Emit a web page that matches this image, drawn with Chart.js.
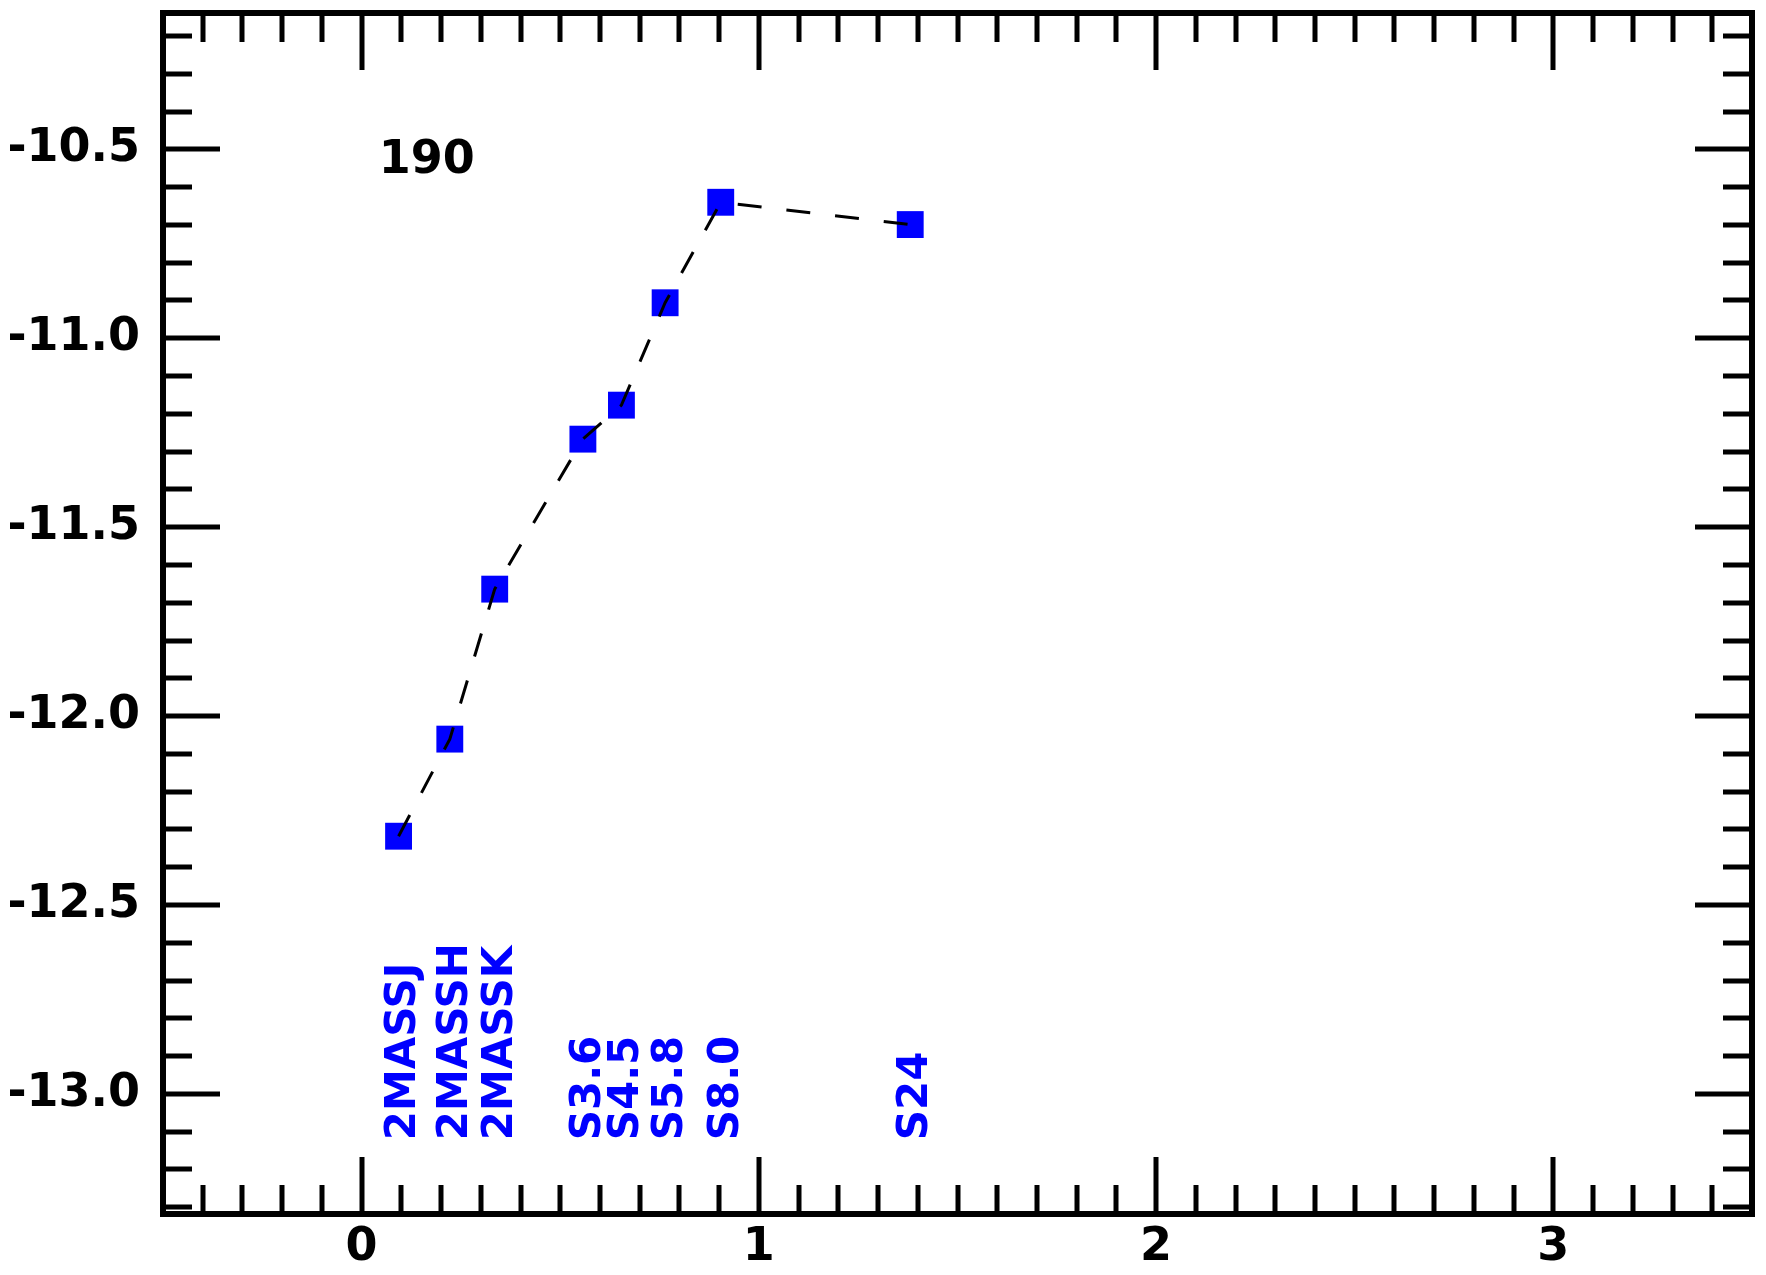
<!DOCTYPE html>
<html>
<head>
<meta charset="utf-8">
<script src="https://cdn.jsdelivr.net/npm/chart.js@4.4.1/dist/chart.umd.min.js"></script>
<style>
  html, body { margin: 0; padding: 0; background: #fff; }
  #wrap { width: 1766px; height: 1275px; }
</style>
</head>
<body>
<div id="wrap"><canvas id="c" width="1766" height="1275"></canvas></div>
<script>
// ---- data ----
const bands = ['2MASSJ', '2MASSH', '2MASSK', 'S3.6', 'S4.5', 'S5.8', 'S8.0', 'S24'];
const logWave = [0.093, 0.222, 0.335, 0.557, 0.654, 0.764, 0.904, 1.381];
const logFlux = [-12.318, -12.061, -11.664, -11.267, -11.177, -10.906, -10.640, -10.699];
const xTickValues = [0, 1, 2, 3];
const yTickValues = [-13.0, -12.5, -12.0, -11.5, -11.0, -10.5];
const sourceLabel = '190';

// ---- layout constants (not data) ----
const X_MIN = -0.5, X_MAX = 3.5;
const Y_MIN = -13.318, Y_MAX = -10.139;
const LABEL_BASE_Y = -13.123;      // bottom of rotated band labels (data units)
const TAG_POS = { x: 0.043, y: -10.531 };

const FONT = "'DejaVu Sans', 'Liberation Sans', sans-serif";
const BLUE = '#0000ff';

const points = logWave.map((v, i) => ({ x: v, y: logFlux[i] }));

const framePlugin = {
  id: 'frameTicks',
  afterDraw(chart) {
    const { ctx, chartArea: a, scales } = chart;
    const xs = scales.x, ys = scales.y;
    ctx.save();
    ctx.strokeStyle = '#000';
    ctx.lineCap = 'butt';
    ctx.lineWidth = 5;
    ctx.beginPath();
    // x ticks (bottom and top, pointing inward)
    for (let i = -4; i <= 34; i++) {
      const v = i / 10;
      const len = (i % 10 === 0) ? 57 : 29;
      const px = Math.round(xs.getPixelForValue(v));
      ctx.moveTo(px, a.bottom); ctx.lineTo(px, a.bottom - len);
      ctx.moveTo(px, a.top); ctx.lineTo(px, a.top + len);
    }
    // y ticks (left and right)
    for (let i = 102; i <= 133; i++) {
      const v = -i / 10;
      const len = (i % 5 === 0) ? 57 : 29;
      const py = Math.round(ys.getPixelForValue(v));
      ctx.moveTo(a.left, py); ctx.lineTo(a.left + len, py);
      ctx.moveTo(a.right, py); ctx.lineTo(a.right - len, py);
    }
    ctx.stroke();
    // frame
    ctx.lineWidth = 6;
    ctx.strokeRect(a.left, a.top, a.right - a.left, a.bottom - a.top);

    // band labels, rotated
    ctx.fillStyle = BLUE;
    ctx.font = 'bold 42px ' + FONT;
    ctx.textAlign = 'left';
    ctx.textBaseline = 'middle';
    const baseY = ys.getPixelForValue(LABEL_BASE_Y);
    bands.forEach((b, i) => {
      const px = xs.getPixelForValue(logWave[i]) + 6;
      ctx.save();
      ctx.translate(px, baseY);
      ctx.rotate(-Math.PI / 2);
      ctx.fillText(b, 0, 0);
      ctx.restore();
    });

    // source tag
    ctx.fillStyle = '#000';
    ctx.font = 'bold 46px ' + FONT;
    ctx.textAlign = 'left';
    ctx.textBaseline = 'middle';
    ctx.fillText(sourceLabel, xs.getPixelForValue(TAG_POS.x), ys.getPixelForValue(TAG_POS.y));
    ctx.restore();
  }
};

new Chart(document.getElementById('c'), {
  type: 'scatter',
  data: {
    datasets: [
      {
        label: 'line',
        data: points,
        showLine: true,
        borderColor: '#000',
        borderWidth: 3,
        borderDash: [24, 25],
        pointRadius: 0,
        fill: false,
        order: 0
      },
      {
        label: 'points',
        data: points,
        showLine: false,
        pointStyle: 'rect',
        pointRadius: 19,
        pointBorderWidth: 0,
        backgroundColor: BLUE,
        borderColor: BLUE,
        order: 1
      }
    ]
  },
  options: {
    responsive: false,
    devicePixelRatio: 1,
    animation: false,
    events: [],
    layout: { autoPadding: false, padding: { top: 13, right: 14, left: 0, bottom: 0 } },
    plugins: { legend: { display: false }, tooltip: { enabled: false } },
    scales: {
      x: {
        type: 'linear',
        min: X_MIN, max: X_MAX,
        grid: { display: false, drawTicks: false },
        border: { display: false },
        afterBuildTicks: (s) => { s.ticks = xTickValues.map(v => ({ value: v })); },
        afterFit: (s) => { s.height = 61; s.paddingLeft = 0; s.paddingRight = 0; },
        ticks: {
          color: '#000',
          padding: 6,
          maxRotation: 0,
          font: { family: FONT, weight: 'bold', size: 46 },
          callback: (v) => String(v)
        }
      },
      y: {
        type: 'linear',
        min: Y_MIN, max: Y_MAX,
        grid: { display: false, drawTicks: false },
        border: { display: false },
        afterBuildTicks: (s) => { s.ticks = yTickValues.map(v => ({ value: v })); },
        afterFit: (s) => { s.width = 163; s.paddingTop = 0; s.paddingBottom = 0; },
        ticks: {
          color: '#000',
          padding: 23,
          font: { family: FONT, weight: 'bold', size: 46 },
          callback: (v) => Number(v).toFixed(1)
        }
      }
    }
  },
  plugins: [framePlugin]
});
</script>
</body>
</html>
